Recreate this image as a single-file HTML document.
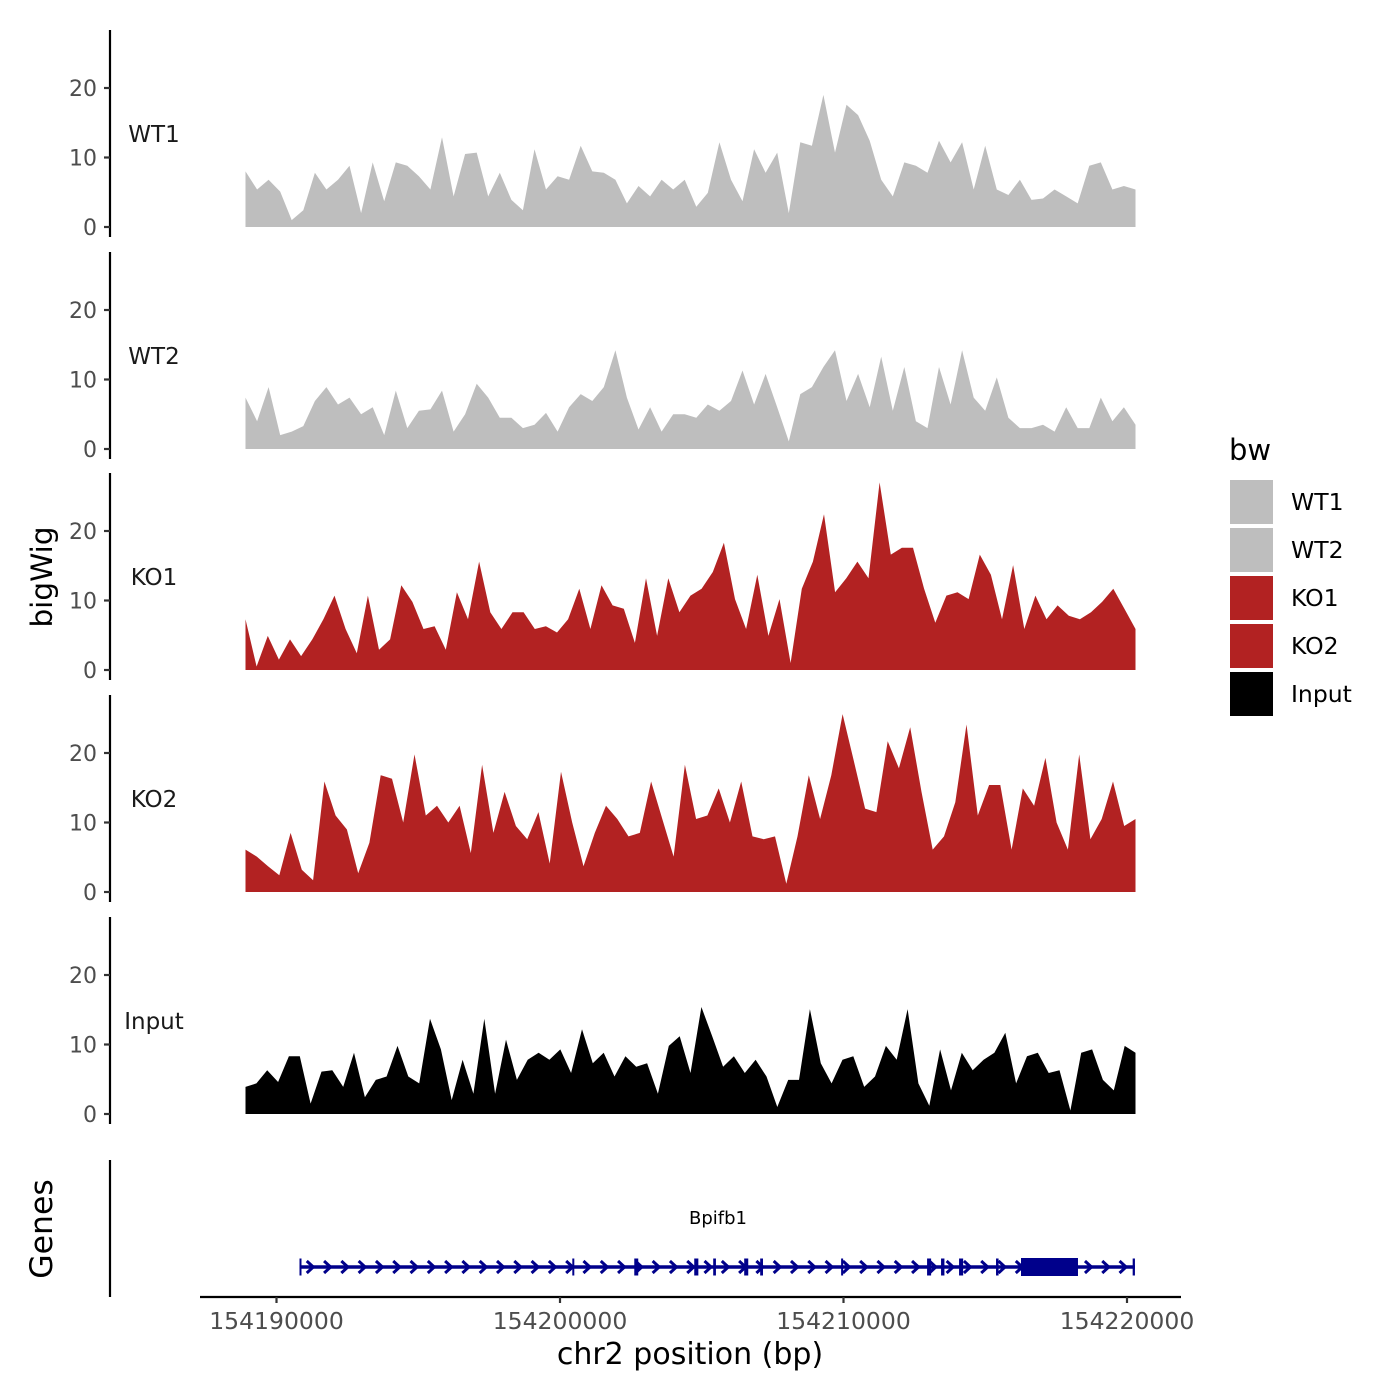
<!DOCTYPE html>
<html><head><meta charset="utf-8"><style>
html,body{margin:0;padding:0;background:#fff;}
svg{display:block;font-family:"DejaVu Sans","Liberation Sans",sans-serif;}
</style></head><body>
<svg id="chart" width="1400" height="1400" viewBox="0 0 1400 1400" xmlns="http://www.w3.org/2000/svg"></svg>
<script>
const categories = ["WT1","WT2","KO1","KO2","Input"];
const colors = ["#bebebe","#bebebe","#b22222","#b22222","#000000"];
const wt1 = [8.0,5.4,6.8,5.1,1.0,2.4,7.8,5.4,6.8,8.8,2.0,9.3,3.7,9.3,8.8,7.3,5.4,12.9,4.4,10.5,10.7,4.4,7.8,3.9,2.4,11.2,5.4,7.3,6.8,11.7,8.0,7.8,6.8,3.4,5.9,4.4,6.8,5.4,6.8,2.9,4.9,12.2,6.8,3.7,11.2,7.8,10.7,2.0,12.2,11.7,19.0,10.7,17.6,16.1,12.4,6.8,4.4,9.3,8.8,7.8,12.4,9.3,12.2,5.4,11.7,5.4,4.6,6.8,3.9,4.1,5.4,4.4,3.4,8.8,9.3,5.4,5.9,5.4];
const wt2 = [7.4,4.0,8.9,2.0,2.5,3.3,6.9,8.9,6.4,7.4,5.0,6.0,2.0,8.4,3.0,5.5,5.7,8.4,2.5,5.0,9.4,7.4,4.5,4.5,3.0,3.5,5.2,2.5,6.0,7.9,6.9,8.9,14.2,7.4,2.8,6.0,2.5,5.0,5.0,4.5,6.4,5.5,6.9,11.3,6.4,10.8,6.0,1.1,7.9,8.9,11.8,14.2,6.9,10.8,6.0,13.3,5.5,11.8,4.0,3.0,11.8,6.4,14.2,7.4,5.5,10.3,4.5,3.0,3.0,3.5,2.5,6.0,3.0,3.0,7.4,4.0,6.0,3.5];
const ko1 = [7.3,0.5,4.9,1.5,4.4,2.0,4.4,7.3,10.7,5.9,2.4,10.7,2.9,4.4,12.2,9.8,5.9,6.3,2.9,11.2,7.3,15.6,8.3,5.9,8.3,8.3,5.9,6.3,5.4,7.3,11.7,5.9,12.2,9.3,8.8,3.9,13.2,4.9,13.2,8.3,10.7,11.7,14.1,18.3,10.2,5.9,13.7,4.9,10.2,1.0,11.7,15.6,22.4,11.2,13.2,15.6,13.2,27.0,16.6,17.6,17.6,11.7,6.8,10.7,11.2,10.2,16.6,13.7,7.3,15.1,5.9,10.7,7.3,9.3,7.8,7.3,8.3,9.8,11.7,8.8,5.9];
const ko2 = [6.1,5.1,3.7,2.4,8.5,3.2,1.7,15.9,11.0,9.0,2.7,7.1,16.8,16.3,10.0,19.8,11.0,12.4,10.0,12.4,5.6,18.3,8.5,14.4,9.5,7.6,11.5,4.1,17.3,10.0,3.7,8.5,12.4,10.5,8.0,8.5,15.9,10.5,5.1,18.3,10.5,11.0,14.9,10.0,15.9,8.0,7.6,8.0,1.2,8.0,16.8,10.5,16.8,25.6,18.8,12.0,11.5,21.7,17.8,23.7,14.4,6.1,8.0,12.9,24.1,11.0,15.4,15.4,6.1,14.9,12.4,19.3,10.0,6.1,19.8,7.6,10.5,15.9,9.5,10.5];
const inputSeries = [3.9,4.4,6.3,4.6,8.3,8.3,1.5,6.1,6.3,3.9,8.8,2.4,4.9,5.4,9.8,5.4,4.4,13.7,9.3,2.0,7.8,2.9,13.7,2.9,10.7,4.9,7.8,8.8,7.8,9.3,5.9,12.2,7.3,8.8,5.4,8.3,6.8,7.3,2.9,9.8,11.2,5.9,15.4,11.2,6.8,8.3,5.9,7.8,5.4,1.0,4.9,4.9,15.1,7.3,4.4,7.8,8.3,3.9,5.4,9.8,7.8,15.1,4.4,1.2,9.3,3.4,8.8,6.3,7.8,8.8,11.7,4.4,8.3,8.8,5.9,6.3,0.5,8.8,9.3,4.9,3.4,9.8,8.8];
const series = [wt1, wt2, ko1, ko2, inputSeries];
const dataStart = 154188907;
const dataEnd = 154220300;
const yTicks = [0,10,20];
const xTicks = [154190000,154200000,154210000,154220000];
const xTickLabels = ["154190000","154200000","154210000","154220000"];
const geneStart = 154190811;
const geneEnd = 154220280;
const exonStarts = [154190811,154200434,154202620,154204735,154205404,154206497,154207061,154209916,154212948,154213441,154214076,154215380,154216261,154220200];
const exonEnds   = [154190880,154200470,154202760,154204880,154205500,154206640,154207160,154209950,154213090,154213560,154214220,154215470,154218271,154220280];
const legendLabels = ["WT1","WT2","KO1","KO2","Input"];

const NS = "http://www.w3.org/2000/svg";
const svg = document.getElementById("chart");
function el(tag, attrs, parent) {
  const e = document.createElementNS(NS, tag);
  for (const k in attrs) e.setAttribute(k, attrs[k]);
  (parent || svg).appendChild(e);
  return e;
}
function xScale(bp) { return 276.5 + (bp - 154190000) * 283.5 / 10000; }
const panelBase = [227, 449, 670, 892, 1114];
const unitPx = 6.95;
function yScale(v, p) { return panelBase[p] - v * unitPx; }

for (let p = 0; p < 5; p++) {
  const g = el("g", {});
  
  
  const vals = series[p];
  const n = vals.length;
  let d = "M" + xScale(dataStart).toFixed(1) + "," + yScale(0, p);
  for (let i = 0; i < n; i++) {
    const bp = dataStart + (dataEnd - dataStart) * i / (n - 1);
    d += " L" + xScale(bp).toFixed(1) + "," + yScale(vals[i], p).toFixed(1);
  }
  d += " L" + xScale(dataEnd).toFixed(1) + "," + yScale(0, p) + " Z";
  const area = el("path", { d: d, fill: colors[p] }, g);
  
  
  const top = panelBase[p] - 197, bot = panelBase[p] + 10;
  const ax = el("line", { x1: 110, x2: 110, y1: top, y2: bot, stroke: "#000", "stroke-width": 2.2 }, g);
  
  
  yTicks.forEach(t => {
    const yy = yScale(t, p);
    const tk = el("line", { x1: 104, x2: 110, y1: yy, y2: yy, stroke: "#333", "stroke-width": 2.2 }, g);
    
    
    const tl = el("text", { x: 97, y: yy + 8, "text-anchor": "end", "font-size": 22, fill: "#4d4d4d" }, g);
    tl.textContent = String(t);
    
    
  });
  const lab = el("text", { x: 154, y: panelBase[p] - 85, "text-anchor": "middle", "font-size": 23, fill: "#1a1a1a" }, g);
  lab.textContent = categories[p];
  
  
}

const yt = el("text", { x: 0, y: 0, transform: "translate(52,577) rotate(-90)", "text-anchor": "middle", "font-size": 29.5, fill: "#000" });
yt.textContent = "bigWig";



const gg = el("g", {});


const gax = el("line", { x1: 110, x2: 110, y1: 1160, y2: 1297, stroke: "#000", "stroke-width": 2.2 }, gg);


const gt = el("text", { x: 0, y: 0, transform: "translate(52,1229) rotate(-90)", "text-anchor": "middle", "font-size": 31.5, fill: "#000" }, gg);
gt.textContent = "Genes";


const gy = 1267;
const intron = el("line", { x1: xScale(geneStart), x2: xScale(geneEnd), y1: gy, y2: gy, stroke: "#00008b", "stroke-width": 3.5 }, gg);


for (let bp = geneStart + 380; bp < geneEnd - 200; bp += 610) {
  const ax2 = xScale(bp);
  const ar = el("path", { d: `M${ax2-3.5},${gy-6} L${ax2+3},${gy} L${ax2-3.5},${gy+6}`, fill: "none", stroke: "#00008b", "stroke-width": 3 }, gg);
  
  
}
for (let i = 0; i < exonStarts.length; i++) {
  const x1 = xScale(exonStarts[i]), x2 = xScale(exonEnds[i]);
  const big = (exonEnds[i] - exonStarts[i]) > 1000;
  const h = big ? 18 : 17;
  const r = el("rect", { x: x1, y: gy - h / 2, width: Math.max(x2 - x1, 2), height: h, fill: "#00008b" }, gg);
  
  
}
const gn = el("text", { x: 718, y: 1224, "text-anchor": "middle", "font-size": 18, fill: "#000" }, gg);
gn.textContent = "Bpifb1";



const xa = el("line", { x1: 200, x2: 1181, y1: 1297, y2: 1297, stroke: "#000", "stroke-width": 2.2 });


xTicks.forEach((t, i) => {
  const xx = xScale(t);
  const tk = el("line", { x1: xx, x2: xx, y1: 1297, y2: 1303, stroke: "#333", "stroke-width": 2.2 });
  
  
  const tl = el("text", { x: xx, y: 1329, "text-anchor": "middle", "font-size": 23.5, fill: "#4d4d4d" });
  tl.textContent = xTickLabels[i];
  
  
});
const xt = el("text", { x: 690, y: 1364, "text-anchor": "middle", "font-size": 30, fill: "#000" });
xt.textContent = "chr2 position (bp)";



const lg = el("g", {});


const ltitle = el("text", { x: 1229, y: 460, "font-size": 29, fill: "#000" }, lg);
ltitle.textContent = "bw";


legendLabels.forEach((lab, i) => {
  const y0 = 480 + i * 48;
  const sw = el("rect", { x: 1230, y: y0, width: 43, height: 44, fill: colors[i] }, lg);
  
  
  const tx = el("text", { x: 1291, y: y0 + 30, "font-size": 23.5, fill: "#000" }, lg);
  tx.textContent = lab;
  
  
});
</script>
</body></html>
